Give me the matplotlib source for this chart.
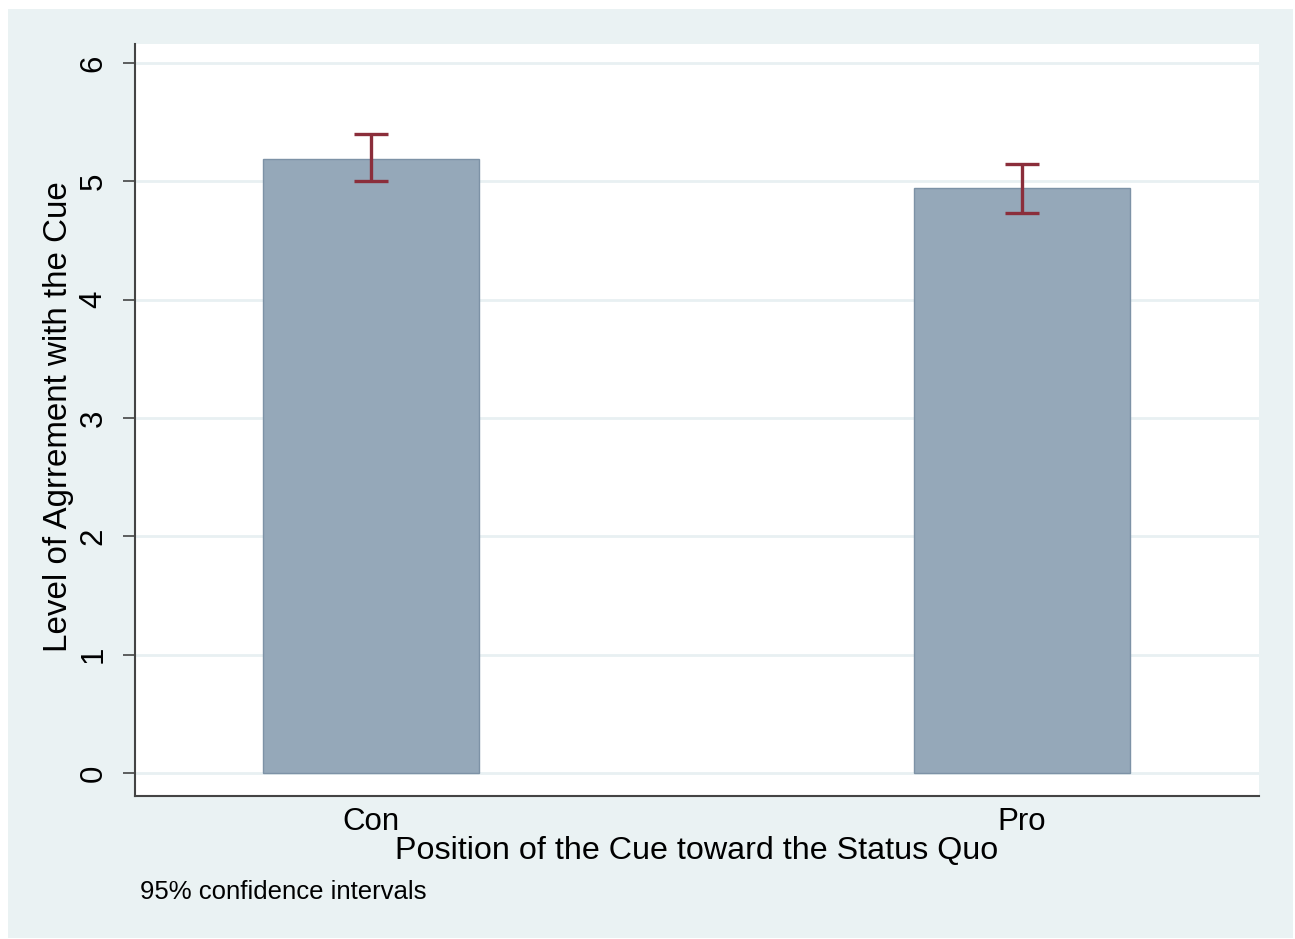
import matplotlib.pyplot as plt
from matplotlib.patches import Rectangle

plt.rcParams['font.family'] = ['Liberation Sans', 'DejaVu Sans']

# group means with 95% confidence bounds
categories = ['Con', 'Pro']
means = [5.19, 4.94]
ci_low = [5.00, 4.73]
ci_high = [5.40, 5.15]

W, H = 1295, 939
fig = plt.figure(figsize=(W / 100, H / 100), dpi=100, facecolor='white')

# Stata-style light background panel behind everything
fig.patches.append(Rectangle((8 / W, 1 - 938 / H), (1293 - 8) / W, (938 - 9) / H,
                             transform=fig.transFigure, facecolor='#eaf2f3',
                             edgecolor='none', zorder=-10))

ax = fig.add_axes([135 / W, 1 - 796 / H, (1259 - 135) / W, (796 - 44) / H])
ax.set_facecolor('white')

x = list(range(len(categories)))
ax.bar(x, means, width=0.332, color='#95a8b9', edgecolor='#7d92a6', linewidth=1, zorder=2)
err = [[m - lo for m, lo in zip(means, ci_low)], [hi - m for m, hi in zip(means, ci_high)]]
ax.errorbar(x, means, yerr=err, fmt='none', ecolor='#8b2e3b', elinewidth=2.4,
            capsize=12, capthick=2.4, zorder=3)

ax.set_xlim(-0.3625, 1.364)
ax.set_ylim(-0.194, 6.16)
ax.set_yticks(range(0, 7))
ax.set_xticks(x)
ax.set_xticklabels(categories)
ax.grid(axis='y', color='#e8f0f2', linewidth=2, zorder=1)
ax.set_axisbelow(True)

for s in ['top', 'right']:
    ax.spines[s].set_visible(False)
for s in ['left', 'bottom']:
    ax.spines[s].set_color('#444444')
    ax.spines[s].set_linewidth(1.5)

ax.tick_params(axis='y', length=9, width=1.2, color='#444444', pad=10, labelsize=22.5,
               labelrotation=90)
for lbl in ax.get_yticklabels():
    lbl.set_va('center')
ax.tick_params(axis='x', length=0, pad=8, labelsize=22.5)

fig.text(59 / W, 1 - 417 / H, 'Level of Agrrement with the Cue', rotation=90,
         ha='center', va='center', fontsize=23.9)
fig.text(697 / W, 1 - 851 / H, 'Position of the Cue toward the Status Quo',
         ha='center', va='center', fontsize=23.2)
fig.text(140 / W, 1 - 892 / H, '95% confidence intervals', ha='left', va='center',
         fontsize=18.5)

fig.savefig('out.png', dpi=100, facecolor='white')
